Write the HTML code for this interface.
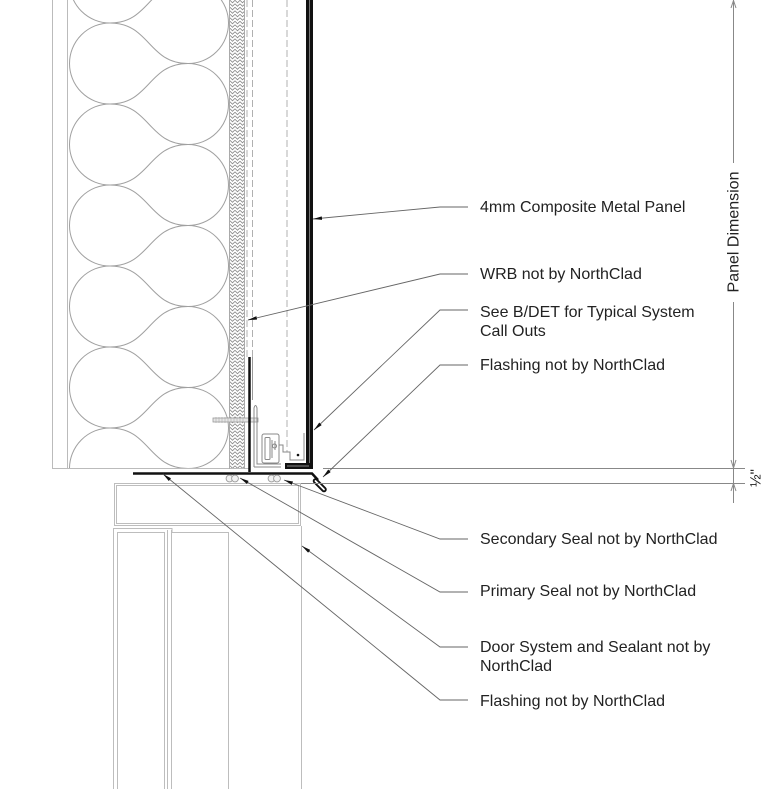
<!DOCTYPE html>
<html><head><meta charset="utf-8">
<style>
html,body{margin:0;padding:0;background:#fff;}
svg{display:block;}
text{font-family:"Liberation Sans",Arial,sans-serif;fill:#222;}
</style></head>
<body>
<svg width="768" height="789" viewBox="0 0 768 789" xmlns="http://www.w3.org/2000/svg">
<defs>
<clipPath id="ins"><rect x="67" y="0" width="162" height="468"/></clipPath>
<pattern id="hatch" width="5" height="3.5" patternUnits="userSpaceOnUse"><path d="M0,0.3 L2.5,2.8 L5,0.3" fill="none" stroke="#8a8a8a" stroke-width="0.9"/></pattern>
<marker id="ar" viewBox="0 0 10 4" refX="10" refY="2" markerWidth="9" markerHeight="3.6" markerUnits="userSpaceOnUse" orient="auto"><path d="M0,0 L10,2 L0,4 z" fill="#111"/></marker>
</defs>
<rect width="768" height="789" fill="#fff"/>

<!-- wall outline -->
<g stroke="#bbb" stroke-width="1" fill="none">
<line x1="52.5" y1="0" x2="52.5" y2="468"/>
<line x1="67.5" y1="0" x2="67.5" y2="468"/>
<line x1="52" y1="468.5" x2="250" y2="468.5"/>
</g>

<!-- insulation -->
<g clip-path="url(#ins)" stroke="#a0a0a0" stroke-width="1" fill="none">
<path d="M110,-58 A40.5,40.5 0 0 0 110,23 M110,23 A40.5,40.5 0 0 0 110,104 M110,104 A40.5,40.5 0 0 0 110,185 M110,185 A40.5,40.5 0 0 0 110,266 M110,266 A40.5,40.5 0 0 0 110,347 M110,347 A40.5,40.5 0 0 0 110,428 M110,428 A40.5,40.5 0 0 0 110,509"/>
<path d="M188,-17.5 A40.5,40.5 0 0 1 188,63.5 M188,63.5 A40.5,40.5 0 0 1 188,144.5 M188,144.5 A40.5,40.5 0 0 1 188,225.5 M188,225.5 A40.5,40.5 0 0 1 188,306.5 M188,306.5 A40.5,40.5 0 0 1 188,387.5 M188,387.5 A40.5,40.5 0 0 1 188,468.5"/>
<path d="M110,-58 C150,-58 148,-17.5 188,-17.5 M110,23 C150,23 148,63.5 188,63.5 M110,104 C150,104 148,144.5 188,144.5 M110,185 C150,185 148,225.5 188,225.5 M110,266 C150,266 148,306.5 188,306.5 M110,347 C150,347 148,387.5 188,387.5 M110,428 C150,428 148,468.5 188,468.5"/>
<path d="M188,-17.5 C148,-17.5 150,23 110,23 M188,63.5 C148,63.5 150,104 110,104 M188,144.5 C148,144.5 150,185 110,185 M188,225.5 C148,225.5 150,266 110,266 M188,306.5 C148,306.5 150,347 110,347 M188,387.5 C148,387.5 150,428 110,428 M188,468.5 C148,468.5 150,509 110,509"/>
</g>

<!-- sheathing hatch -->
<rect x="229" y="0" width="15" height="468" fill="url(#hatch)"/>
<g stroke="#aaa" stroke-width="1" fill="none">
<line x1="229.5" y1="0" x2="229.5" y2="469"/>
<line x1="244.5" y1="0" x2="244.5" y2="469"/>
</g>
<g stroke="#b0b0b0" stroke-width="1" fill="none" stroke-dasharray="7,3">
<line x1="247" y1="0" x2="247" y2="357"/>
<line x1="252.5" y1="0" x2="252.5" y2="357"/>
<line x1="287" y1="0" x2="287" y2="452"/>
</g>
<path d="M252.5,357 L252.5,400" stroke="#999" stroke-width="1" fill="none"/>

<!-- fastener -->
<rect x="213" y="418" width="45" height="4" fill="#e6e6e6" stroke="#999" stroke-width="0.8"/>
<path d="M216,417 v6 M219,417 v6 M222,417 v6 M225,417 v6 M228,417 v6 M231,417 v6 M234,417 v6 M237,417 v6 M240,417 v6 M243,417 v6" stroke="#aaa" stroke-width="0.6"/>

<!-- flange / clip -->
<g stroke="#888" stroke-width="1" fill="none">
<path d="M254,467 L254,408 Q255.5,403 257,408 L257,464 L281,464"/>
<path d="M254,467 L281,467"/>
<rect x="262" y="434" width="17" height="29" rx="2"/>
<rect x="265" y="437.5" width="5" height="22" rx="1"/>
<path d="M272,440 L272,458 M275,441 L275,450"/>
<circle cx="274.5" cy="446" r="2"/>
<path d="M279,445 L283,445 L283,452 L290,452 L290,460 L304,460 L304,433"/>
</g>
<circle cx="298" cy="455" r="1.3" fill="#111"/>

<!-- panel -->
<rect x="306" y="-1" width="7" height="470" fill="#111"/>
<line x1="309.5" y1="0" x2="309.5" y2="464" stroke="#777" stroke-width="1"/>
<rect x="285" y="463" width="28" height="6" fill="#111"/>
<line x1="287" y1="466" x2="309" y2="466" stroke="#888" stroke-width="1"/>

<!-- flashing -->
<path d="M249.5,357 L249.5,472" stroke="#111" stroke-width="2.5" fill="none"/>
<path d="M133,473.5 L312,473.5 L318,480" stroke="#111" stroke-width="2.5" fill="none"/>
<line x1="315.5" y1="481" x2="324" y2="489.5" stroke="#111" stroke-width="5.5" stroke-linecap="round"/>
<line x1="315.5" y1="481" x2="324" y2="489.5" stroke="#fff" stroke-width="1.8" stroke-linecap="round"/>

<!-- seals -->
<g stroke="#999" stroke-width="0.9" fill="#f2f2f2">
<circle cx="229.5" cy="478.5" r="3.4"/><circle cx="235" cy="478.5" r="3.4"/>
<circle cx="271.5" cy="478.5" r="3.4"/><circle cx="277" cy="478.5" r="3.4"/>
</g>

<!-- door frame -->
<g stroke="#bdbdbd" stroke-width="1" fill="none">
<rect x="114.5" y="483.5" width="186" height="42"/>
<rect x="116.5" y="485.5" width="182" height="38"/>
<path d="M113.5,789 L113.5,528.5 L172,528.5 L172,532.5 L228.5,532.5 L228.5,789"/>
<path d="M117.5,789 L117.5,532.5 L164.5,532.5 L164.5,789"/>
<line x1="167.5" y1="530" x2="167.5" y2="789"/>
<line x1="171.5" y1="530" x2="171.5" y2="789"/>
<line x1="301.5" y1="526" x2="301.5" y2="789"/>
</g>

<!-- extension / dimension lines -->
<g stroke="#888" stroke-width="1" fill="none">
<line x1="323" y1="468.5" x2="745" y2="468.5"/>
<line x1="301" y1="483.5" x2="745" y2="483.5"/>
<line x1="733.5" y1="0" x2="733.5" y2="163"/>
<line x1="733.5" y1="302" x2="733.5" y2="503"/>
<path d="M731,8 L733.5,0.5 L736,8"/>
<path d="M731,460 L733.5,468 L736,460"/>
<path d="M731,491 L733.5,483.5 L736,491"/>
</g>
<text x="0" y="0" font-size="16" text-anchor="middle" dominant-baseline="central" transform="translate(734,232) rotate(-90)">Panel Dimension</text>
<text x="0" y="0" font-size="15" text-anchor="middle" dominant-baseline="central" transform="translate(756,478) rotate(-90)">½"</text>

<!-- leaders -->
<g stroke="#666" stroke-width="0.9" fill="none" marker-end="url(#ar)">
<polyline points="468,207 440,207 313,219"/>
<polyline points="468,274 440,274 248,320"/>
<polyline points="468,310 440,310 314,430"/>
<polyline points="468,365 440,365 323,477"/>
<polyline points="468,539 440,539 284,480"/>
<polyline points="468,592 440,592 240,478"/>
<polyline points="468,647 440,647 302,546"/>
<polyline points="468,700 440,700 163,474"/>
</g>

<!-- labels -->
<g font-size="16">
<text x="480" y="212">4mm Composite Metal Panel</text>
<text x="480" y="279">WRB not by NorthClad</text>
<text x="480" y="317">See B/DET for Typical System</text>
<text x="480" y="336">Call Outs</text>
<text x="480" y="370">Flashing not by NorthClad</text>
<text x="480" y="544">Secondary Seal not by NorthClad</text>
<text x="480" y="596">Primary Seal not by NorthClad</text>
<text x="480" y="652">Door System and Sealant not by</text>
<text x="480" y="671">NorthClad</text>
<text x="480" y="706">Flashing not by NorthClad</text>
</g>
</svg>
</body></html>
